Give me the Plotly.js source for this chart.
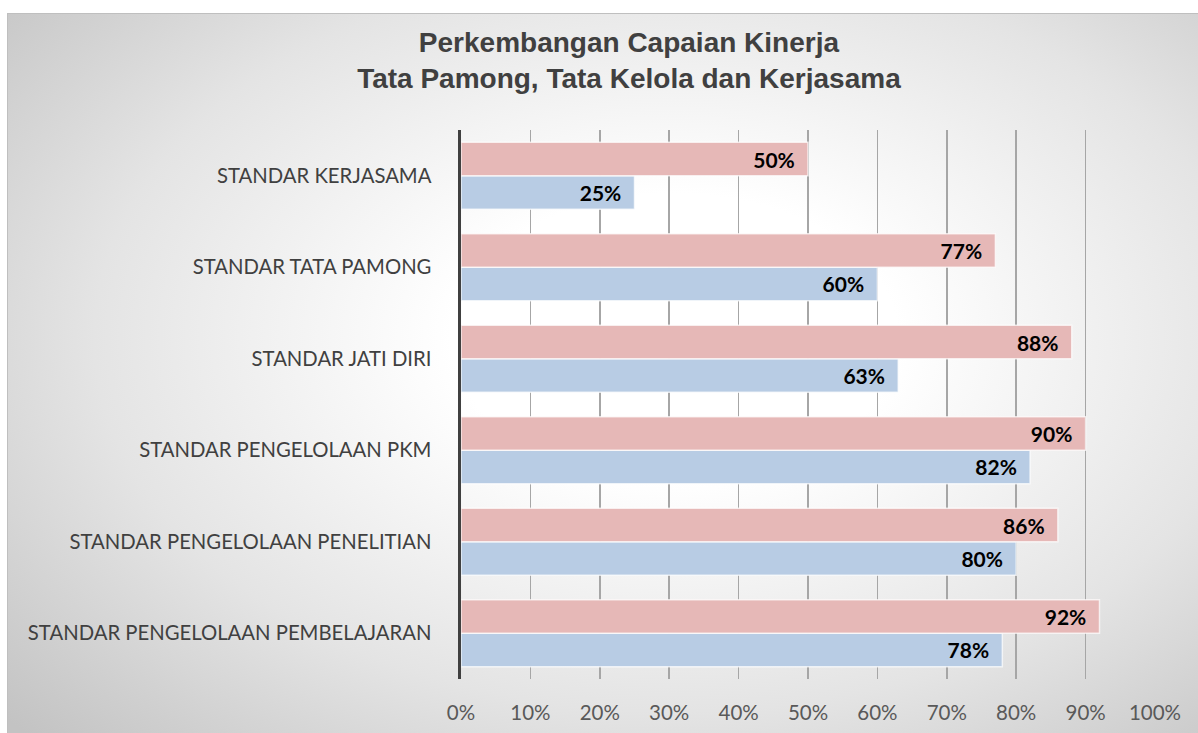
<!DOCTYPE html>
<html>
<head>
<meta charset="utf-8">
<script src="https://cdn.plot.ly/plotly-3.0.1.min.js"></script>
<style>
html,body{margin:0;padding:0;background:#fff;}
#bg{position:absolute;left:7px;top:13px;width:1190px;height:719px;border:1px solid #bfbfbf;
background:radial-gradient(ellipse 75% 80% at 56% 45%, #ffffff 25%, #e4e4e4 65%, #c3c3c3 100%);}
#chart{position:absolute;left:0;top:0;width:1198px;height:733px;}
</style>
</head>
<body>
<div id="bg"></div>
<div id="chart"></div>
<script>
const categories = [
  "STANDAR PENGELOLAAN PEMBELAJARAN",
  "STANDAR PENGELOLAAN PENELITIAN",
  "STANDAR PENGELOLAAN PKM",
  "STANDAR JATI DIRI",
  "STANDAR TATA PAMONG",
  "STANDAR KERJASAMA"
];
const seriesBlue = [0.78, 0.80, 0.82, 0.63, 0.60, 0.25];
const seriesRed  = [0.92, 0.86, 0.90, 0.88, 0.77, 0.50];
const tickVals = [0,0.1,0.2,0.3,0.4,0.5,0.6,0.7,0.8,0.9,1.0];
const tickText = ["0%","10%","20%","30%","40%","50%","60%","70%","80%","90%","100%"];

const labelFont = {family:"Lato, 'Open Sans', sans-serif", size:21, color:"#000000", weight:"bold"};
function mk(vals, color){
  return {
    type:"bar", orientation:"h", y:categories, x:vals,
    marker:{color:color, line:{color:"rgba(255,255,255,0.7)", width:1.5}},
    text: vals.map(v => Math.round(v*100) + "%\u00a0\u00a0"),
    textposition:"inside", insidetextanchor:"end",
    textfont: labelFont, insidetextfont: labelFont,
    hoverinfo:"x+y", showlegend:false, cliponaxis:false
  };
}
const data = [mk(seriesBlue, "#b8cce4"), mk(seriesRed, "#e6b8b7")];

const layout = {
  width:1198, height:733,
  paper_bgcolor:"rgba(0,0,0,0)", plot_bgcolor:"rgba(0,0,0,0)",
  margin:{l:461, r:43, t:130, b:54},
  barmode:"group", bargap:0.27, bargroupgap:0,
  title:{
    text:"<b>Perkembangan Capaian Kinerja<br>Tata Pamong, Tata Kelola dan Kerjasama</b>",
    font:{family:"'Liberation Sans', Arial, sans-serif", size:28, color:"#404040"},
    x:0.525, xref:"container", xanchor:"center",
    y:0.929, yref:"container", yanchor:"top"
  },
  xaxis:{
    range:[0,1.0], tickvals:tickVals, ticktext:tickText,
    showgrid:true, gridcolor:"#a6a6a6", gridwidth:1.5,
    zeroline:false, showline:false, ticks:"",
    ticklabelstandoff:19,
    tickfont:{family:"Lato, 'Open Sans', sans-serif", size:20.5, color:"#595959"},
    fixedrange:true
  },
  yaxis:{
    type:"category", categoryorder:"array", categoryarray:categories,
    showgrid:false, zeroline:false,
    showline:true, linecolor:"#404040", linewidth:3.5,
    ticks:"", ticklabelstandoff:22,
    tickfont:{family:"Lato, 'Open Sans', sans-serif", size:20.3, color:"#404040"},
    fixedrange:true
  }
};
Plotly.newPlot("chart", data, layout, {displayModeBar:false, staticPlot:true});
</script>
</body>
</html>
